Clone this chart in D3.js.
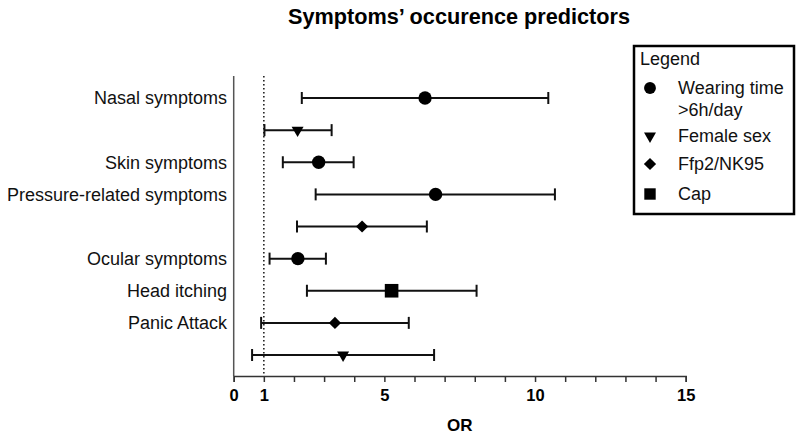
<!DOCTYPE html>
<html><head><meta charset="utf-8">
<script src="https://cdn.jsdelivr.net/npm/d3@7"></script>
<style>body{margin:0;background:#fff}text{font-family:"Liberation Sans",Arial,sans-serif}</style>
</head><body><svg id="c" width="800" height="435"></svg>
<script>
const rowLabels = ["Nasal symptoms","","Skin symptoms","Pressure-related symptoms","","Ocular symptoms","Head itching","Panic Attack",""];
const rowPredictor = ["Wearing time >6h/day","Female sex","Wearing time >6h/day","Wearing time >6h/day","Ffp2/NK95","Wearing time >6h/day","Cap","Ffp2/NK95","Female sex"];
const orValues = [6.35, 2.12, 2.82, 6.70, 4.26, 2.13, 5.24, 3.36, 3.63];
const ciLow =    [2.26, 1.02, 1.63, 2.72, 2.10, 1.19, 2.43, 0.91, 0.61];
const ciHigh =   [10.44, 3.25, 3.98, 10.66, 6.41, 3.06, 8.06, 5.81, 6.65];
const xTicks = d3.range(0, 16);
const xTickLabels = [0, 1, 5, 10, 15];
const legendKeys = ["Wearing time >6h/day","Female sex","Ffp2/NK95","Cap"];

const svg = d3.select("#c");
const x = d3.scaleLinear().domain([0, 15]).range([233.7, 685.7]);
const y = d3.scalePoint().domain(d3.range(rowLabels.length)).range([98, 355]);

const symType = {
  "Wearing time >6h/day": d3.symbolCircle,
  "Female sex": d3.symbolTriangle,
  "Ffp2/NK95": d3.symbolSquare,
  "Cap": d3.symbolSquare
};
const symSize = {"Wearing time >6h/day":140,"Female sex":62,"Ffp2/NK95":75,"Cap":185};
const symRot = {"Female sex":180,"Ffp2/NK95":45};

// title
svg.append("text").attr("x", 459).attr("y", 24).attr("text-anchor","middle")
  .attr("font-size", 22).attr("font-weight","bold")
  .attr("textLength", 342).attr("lengthAdjust","spacingAndGlyphs")
  .text("Symptoms’ occurence predictors");

// y axis line
svg.append("line").attr("x1", 233.7).attr("x2", 233.7).attr("y1", 76).attr("y2", 376)
  .attr("stroke","#555").attr("stroke-width",1.5);

// x axis
const xAxis = d3.axisBottom(x).tickValues(xTicks).tickSize(6)
  .tickFormat(d => xTickLabels.includes(d) ? d : "");
const gx = svg.append("g").attr("transform","translate(0,376)").call(xAxis);
gx.select(".domain").attr("stroke","#333").attr("stroke-width",1.5);
gx.selectAll(".tick line").attr("stroke","#333").attr("stroke-width",1.5);
gx.selectAll(".tick text").attr("font-size",16.5).attr("font-weight","bold")
  .attr("font-family","Liberation Sans, Arial, sans-serif").attr("fill","#000").attr("dy","0.97em");
svg.append("text").attr("x", x(7.5)).attr("y", 431).attr("text-anchor","middle")
  .attr("font-size",17).attr("font-weight","bold").text("OR");

// reference line at 1
svg.append("line").attr("x1", x(1)).attr("x2", x(1)).attr("y1", 76).attr("y2", 376)
  .attr("stroke","#222").attr("stroke-width",1.6).attr("stroke-dasharray","1.5,2.5");

// y labels
svg.selectAll("text.ylab").data(rowLabels).enter().append("text")
  .attr("class","ylab").attr("x", 227).attr("y", (d,i)=>y(i)).attr("dy","0.35em")
  .attr("text-anchor","end").attr("font-size",18).attr("fill","#111").text(d=>d);

// error bars
const rows = svg.append("g").selectAll("g").data(rowLabels.map((l,i)=>i)).enter().append("g");
rows.append("line").attr("x1", i=>x(ciLow[i])).attr("x2", i=>x(ciHigh[i]))
  .attr("y1", i=>y(i)).attr("y2", i=>y(i)).attr("stroke","#111").attr("stroke-width",2);
rows.append("line").attr("x1", i=>x(ciLow[i])).attr("x2", i=>x(ciLow[i]))
  .attr("y1", i=>y(i)-6).attr("y2", i=>y(i)+6).attr("stroke","#111").attr("stroke-width",2);
rows.append("line").attr("x1", i=>x(ciHigh[i])).attr("x2", i=>x(ciHigh[i]))
  .attr("y1", i=>y(i)-6).attr("y2", i=>y(i)+6).attr("stroke","#111").attr("stroke-width",2);
rows.append("path")
  .attr("d", i=>d3.symbol().type(symType[rowPredictor[i]]).size(symSize[rowPredictor[i]])())
  .attr("transform", i=>`translate(${x(orValues[i])},${y(i)}) rotate(${symRot[rowPredictor[i]]||0})`)
  .attr("fill","#000");

// legend
const lg = svg.append("g");
lg.append("rect").attr("x",634).attr("y",46).attr("width",160).attr("height",168)
  .attr("fill","#fff").attr("stroke","#000").attr("stroke-width",2.5);
lg.append("text").attr("x",640).attr("y",59).attr("dy","0.35em").attr("font-size",18).attr("fill","#111").text("Legend");
const legendY = [88, 136, 164, 194];
const legendSize = {"Wearing time >6h/day":110,"Female sex":62,"Ffp2/NK95":75,"Cap":130};
legendKeys.forEach((k,i)=>{
  lg.append("path").attr("d", d3.symbol().type(symType[k]).size(legendSize[k])())
    .attr("transform", `translate(650,${legendY[i]}) rotate(${symRot[k]||0})`)
    .attr("fill","#000");
  if (i===0) {
    lg.append("text").attr("x",678).attr("y",legendY[i]).attr("dy","0.35em").attr("font-size",18).attr("fill","#111").text("Wearing time");
    lg.append("text").attr("x",678).attr("y",legendY[i]+22).attr("dy","0.35em").attr("font-size",18).attr("fill","#111").text(">6h/day");
  } else {
    lg.append("text").attr("x",678).attr("y",legendY[i]).attr("dy","0.35em").attr("font-size",18).attr("fill","#111").text(k);
  }
});
</script></body></html>
